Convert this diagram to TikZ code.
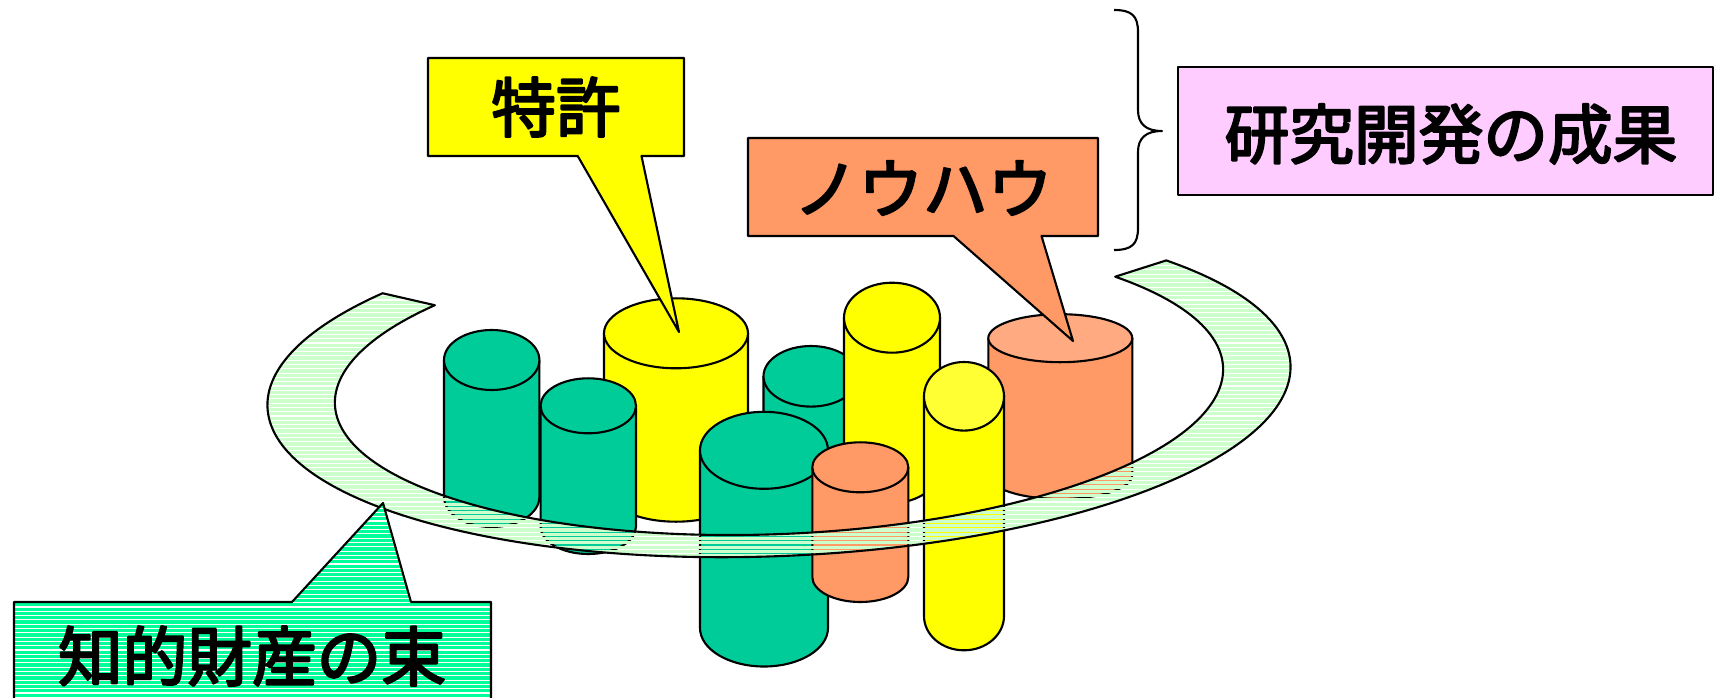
\documentclass[tikz,border=0pt]{standalone}
\usepackage{fontspec}
\newfontfamily\jpfont[FakeBold=3.5]{Noto Sans CJK JP}

\definecolor{cylgreen}{HTML}{00CC99}
\definecolor{cylyellow}{HTML}{FFFF00}
\definecolor{yellowtop}{HTML}{FFFF33}
\definecolor{cylorange}{HTML}{FF9966}
\definecolor{orangetop}{HTML}{FFAA80}
\definecolor{ringgreen}{HTML}{CCFFCC}
\definecolor{callgreen}{HTML}{00FF99}
\definecolor{boxpink}{HTML}{FFCCFF}

% cylinder: centre x, x radius, top y, bottom y, y radius, body colour, top colour
\newcommand{\drawcyl}[7]{%
  \path[outline, fill=#6] ({#1-#2},#3) -- ({#1-#2},#4)
    arc[start angle=180, end angle=0, x radius=#2, y radius=#5] -- ({#1+#2},#3) -- cycle;
  \path[outline, fill=#7] (#1,#3) ellipse[x radius=#2, y radius=#5];
}

% open elliptic band around the cylinders (local coordinates about its centre)
\newcommand{\ringpath}{(220:512 and 170)
  arc[start angle=220, end angle=-40, x radius=512, y radius=170]
  -- (-40:444.5 and 148)
  arc[start angle=-40, end angle=220, x radius=444.5, y radius=148] -- cycle}

% callout shapes
\newcommand{\patentshape}{(428,58) -- (684,58) -- (684,156) -- (641.5,156) -- (679,332) -- (577.7,156) -- (428,156) -- cycle}
\newcommand{\knowhowshape}{(748,138) -- (1098,138) -- (1098,236) -- (1041.5,236) -- (1073,341) -- (953.5,236) -- (748,236) -- cycle}
\newcommand{\bundleshape}{(14,602) -- (292,602) -- (383,503) -- (411,602) -- (491,602) -- (491,730) -- (14,730) -- cycle}

\begin{document}
\begin{tikzpicture}[x=0.1mm, y=-0.1mm, line join=round,
  outline/.style={draw=black, line width=0.6pt},
  jptext/.style={font={\jpfont\fontsize{18.4pt}{22pt}\selectfont}, inner sep=0pt}]

\useasboundingbox (0,0) rectangle (1715,698);
\clip (0,0) rectangle (1715,698);

% cylinders, back to front
\drawcyl{491.7}{47.7}{360}{497}{30}{cylgreen}{cylgreen}
\drawcyl{676}{72}{333.3}{486.7}{35}{cylyellow}{cylyellow}
\drawcyl{811}{47.5}{376.3}{520}{30.3}{cylgreen}{cylgreen}
\drawcyl{892}{48}{317.7}{468}{35}{cylyellow}{cylyellow}
\drawcyl{1060.3}{72}{338.2}{475}{24}{cylorange}{orangetop}
\drawcyl{588.3}{47.7}{405.8}{526.5}{27.5}{cylgreen}{cylgreen}
\drawcyl{764}{64}{450.3}{628}{38.5}{cylgreen}{cylgreen}
\drawcyl{860.3}{48}{467.3}{577}{25}{cylorange}{cylorange}
\drawcyl{964}{40}{396.3}{616}{34.3}{cylyellow}{yellowtop}

% striped band in front of the cylinders
\begin{scope}[shift={(779,386)}, rotate=2.4]
  \begin{scope}
    \clip \ringpath;
    \begin{scope}[rotate=-2.4]
      \foreach \k in {0,...,80}
        \fill[ringgreen] (-560,{-150+\k*4.3}) rectangle (560,{-150+\k*4.3+3.2});
    \end{scope}
  \end{scope}
  \path[outline] \ringpath;
\end{scope}

% callouts
\path[outline, fill=cylyellow] \patentshape;
\node[jptext] (patent) at (556,107) {特許};

\path[outline, fill=cylorange] \knowhowshape;
\node[jptext] (knowhow) at (923,188) {ノウハウ};

\begin{scope}
  \clip \bundleshape;
  \fill[white] (0,490) rectangle (500,730);
  \foreach \k in {0,...,55}
    \fill[callgreen] (0,{500+\k*4.3}) rectangle (500,{500+\k*4.3+3.2});
\end{scope}
\path[outline] \bundleshape;
\node[jptext] (bundle) at (252,656) {知的財産の束};

% brace and result box
\coordinate (bracetop) at (1114,10);
\coordinate (bracetip) at (1162,131);
\coordinate (bracebot) at (1114,250);
\draw[line width=0.6pt] (bracetop) .. controls (1132,10) and (1138,16) .. (1138,32)
  -- (1138,110) .. controls (1138,124) and (1146,131) .. (bracetip)
  .. controls (1146,131) and (1138,138) .. (1138,152)
  -- (1138,228) .. controls (1138,244) and (1132,250) .. (bracebot);

\path[outline, fill=boxpink] (1178,67) rectangle (1713,195);
\node[jptext] (result) at (1451,134) {研究開発の成果};

\end{tikzpicture}
\end{document}
